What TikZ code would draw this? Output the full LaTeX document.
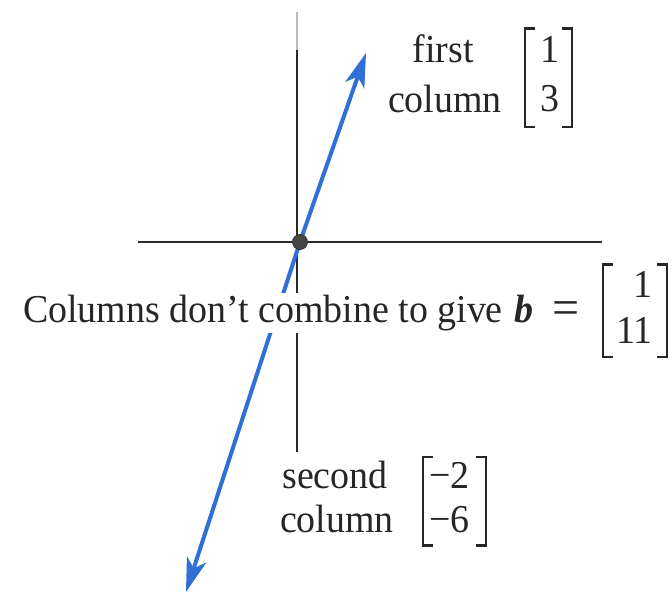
\documentclass[tikz,border=0pt]{standalone}
\usepackage{fontspec}
\setmainfont[FakeStretch=0.96]{Liberation Serif}
\usetikzlibrary{arrows.meta,calc}
\definecolor{vecblue}{HTML}{2F6FD6}
\definecolor{axisgray}{HTML}{2A2A2A}
\begin{document}
\begin{tikzpicture}[x=1pt,y=-1pt,
  axis/.style={line width=2.4pt, draw=axisgray},
  vec/.style={line width=4pt, draw=vecblue, -{Stealth[length=34pt,width=20pt,inset=9pt]}},
  lbl/.style={font=\fontsize{39.5}{46}\selectfont, inner sep=0pt, text=black!85},
  brk/.style={line width=2.3pt, draw=black!85, line cap=butt},
]
\useasboundingbox (0,0) rectangle (672,594);
\coordinate (O) at (300,242);
\coordinate (xl) at (138,242);
\coordinate (xr) at (602,242);
\coordinate (yt) at (297,12);
\coordinate (yg) at (297,50);
\coordinate (yb) at (297,452);
\draw[axis] (xl) -- (xr);
\draw[axis, draw=gray!55] (yt) -- (yg);
\draw[axis] (yg) -- (yb);
\coordinate (t1) at (366,53);
\coordinate (t2) at (186,592);
\draw[vec] (O) -- (t1);
\draw[vec] (O) -- (t2);
\node[circle, fill=gray!55!black, draw=black!80, line width=0.8pt, minimum size=15pt, inner sep=0pt] (dot) at (O) {};
% main sentence
\node[lbl, anchor=base west, fill=white, inner sep=2pt] (txt) at (21,322) {Columns don’t combine to give};
\node[lbl, anchor=base west] (bv) at ([xshift=9pt]txt.base east) {\textbf{\textit{b}}};
\node[lbl, anchor=base, font=\fontsize{50}{50}\selectfont] (eqs) at (566,324) {=};
\node[lbl, anchor=base east, font=\fontsize{39.5}{46}\selectfont] (mb) at (653,297) {\begin{tabular}[t]{@{}r@{}}1\\11\end{tabular}};
\draw[brk] ($(mb.north west)+(-3pt,0)$) -- ($(mb.north west)+(-13pt,0)$) -- ($(mb.south west)+(-13pt,0)$) -- ($(mb.south west)+(-3pt,0)$);
\draw[brk] ($(mb.north east)+(4pt,0)$) -- ($(mb.north east)+(14pt,0)$) -- ($(mb.south east)+(14pt,0)$) -- ($(mb.south east)+(4pt,0)$);
% first column label
\node[lbl, anchor=base] (first) at (443,63) {first};
\node[lbl, anchor=base] (col1) at (445,112) {column};
\node[lbl, anchor=base, font=\fontsize{39.5}{49}\selectfont] (m1) at (550,63) {\begin{tabular}[t]{@{}c@{}}1\\3\end{tabular}};
\draw[brk] ($(m1.north west)+(-5pt,0)$) -- ($(m1.north west)+(-15pt,0)$) -- ($(m1.south west)+(-15pt,0)$) -- ($(m1.south west)+(-5pt,0)$);
\draw[brk] ($(m1.north east)+(2pt,0)$) -- ($(m1.north east)+(12pt,0)$) -- ($(m1.south east)+(12pt,0)$) -- ($(m1.south east)+(2pt,0)$);
% second column label
\node[lbl, anchor=base] (second) at (335,488) {second};
\node[lbl, anchor=base] (col2) at (337,532) {column};
\node[lbl, anchor=base west, font=\fontsize{39.5}{44}\selectfont] (m2) at (429,488) {\begin{tabular}[t]{@{}r@{}}−2\\−6\end{tabular}};
\draw[brk] ($(m2.north west)+(4pt,0)$) -- ($(m2.north west)+(-6pt,0)$) -- ($(m2.south west)+(-6pt,0)$) -- ($(m2.south west)+(4pt,0)$);
\draw[brk] ($(m2.north east)+(6pt,0)$) -- ($(m2.north east)+(16pt,0)$) -- ($(m2.south east)+(16pt,0)$) -- ($(m2.south east)+(6pt,0)$);
\end{tikzpicture}
\end{document}
